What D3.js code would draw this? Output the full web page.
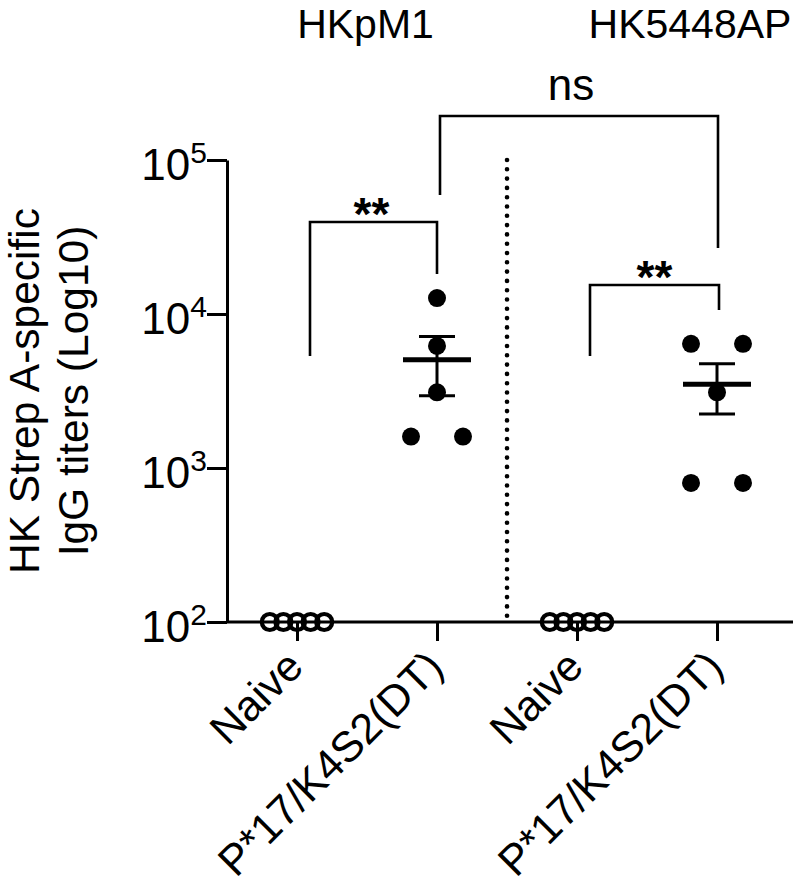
<!DOCTYPE html>
<html>
<head>
<meta charset="utf-8">
<script src="https://cdn.jsdelivr.net/npm/d3@7"></script>
<style>
  html, body { margin: 0; padding: 0; background: #fff; }
  svg { display: block; font-family: "Liberation Sans", Arial, sans-serif; }
</style>
</head>
<body>
<script>
// ---- data ----
const groupTitles = ["HKpM1", "HK5448AP"];
const categories = ["Naive", "P*17/K4S2(DT)", "Naive", "P*17/K4S2(DT)"];
const naiveHKpM1 = [100, 100, 100, 100, 100];
const vaccHKpM1 = [12700, 6200, 3100, 1600, 1600];
const naiveHK5448AP = [100, 100, 100, 100, 100];
const vaccHK5448AP = [6400, 6400, 3100, 800, 800];
const yTickValues = [1e2, 1e3, 1e4, 1e5];
const yTickExponents = ["2", "3", "4", "5"];
const yLabelLines = ["HK Strep A-specific", "IgG titers (Log10)"];
const comparisons = [
  { from: 0, to: 1, label: "**" },
  { from: 2, to: 3, label: "**" },
  { from: 1, to: 3, label: "ns" }
];

const series = [
  { cat: 0, values: naiveHKpM1, open: true },
  { cat: 1, values: vaccHKpM1, open: false },
  { cat: 2, values: naiveHK5448AP, open: true },
  { cat: 3, values: vaccHK5448AP, open: false }
];

// ---- layout ----
const W = 800, H = 891;
const svg = d3.select("body").append("svg").attr("width", W).attr("height", H);

const y = d3.scaleLog().domain([1e2, 1e5]).range([622, 160]);
const x = d3.scalePoint().domain(d3.range(categories.length)).range([297, 717]);
const axisLeftX = 227, axisRightX = 793;

// y axis
const gy = svg.append("g").attr("transform", `translate(${axisLeftX},0)`)
  .call(d3.axisLeft(y).tickValues(yTickValues).tickSize(20).tickSizeOuter(0).tickFormat(""));
gy.selectAll("path, line").attr("stroke", "#000").attr("stroke-width", 3);
gy.selectAll(".tick").each(function (d, i) {
  const t = d3.select(this).append("text")
    .attr("x", -20).attr("y", 19)
    .attr("text-anchor", "end")
    .attr("fill", "#000")
    .style("font-size", "44px");
  t.append("tspan").text("10");
  t.append("tspan").attr("dy", -17).style("font-size", "30px").text(yTickExponents[i]);
});

// x axis
const gx = svg.append("g").attr("transform", `translate(0,${y(1e2)})`)
  .call(d3.axisBottom(x).tickSize(19).tickSizeOuter(0).tickFormat(""));
gx.select(".domain").remove();
gx.selectAll("line").attr("stroke", "#000").attr("stroke-width", 3);
gx.append("line").attr("x1", axisLeftX).attr("x2", axisRightX)
  .attr("y1", 0).attr("y2", 0).attr("stroke", "#000").attr("stroke-width", 3);
gx.selectAll(".tick").append("text")
  .attr("transform", "translate(8,47) rotate(-45)")
  .attr("text-anchor", "end")
  .attr("fill", "#000")
  .style("font-size", "43px")
  .text((d) => categories[d]);

// dotted separator between groups
const sepX = (x(1) + x(2)) / 2;
svg.append("line")
  .attr("x1", sepX).attr("x2", sepX)
  .attr("y1", y(1e5)).attr("y2", y(1e2) + 2)
  .attr("stroke", "#000").attr("stroke-width", 4.6)
  .attr("stroke-linecap", "round")
  .attr("stroke-dasharray", "0 9.3");

// points with simple swarm offsets
const rFilled = 9, rOpen = 8;
series.forEach((s) => {
  const ys = s.values.map((v) => y(v));
  const used = new Array(ys.length).fill(false);
  const offsets = new Array(ys.length).fill(0);
  const step = s.open ? 13.6 : 52;
  for (let i = 0; i < ys.length; i++) {
    if (used[i]) continue;
    const grp = [];
    for (let j = i; j < ys.length; j++) {
      if (!used[j] && Math.abs(ys[j] - ys[i]) < 2 * rFilled) { grp.push(j); used[j] = true; }
    }
    grp.forEach((j, k) => { offsets[j] = (k - (grp.length - 1) / 2) * step; });
  }
  const g = svg.append("g");
  g.selectAll("circle").data(s.values).join("circle")
    .attr("cx", (d, i) => x(s.cat) + offsets[i])
    .attr("cy", (d) => y(d))
    .attr("r", s.open ? rOpen : rFilled)
    .attr("fill", s.open ? "none" : "#000")
    .attr("stroke", "#000")
    .attr("stroke-width", s.open ? 4.2 : 0);

  if (!s.open) {
    const mean = d3.mean(s.values);
    const sem = d3.deviation(s.values) / Math.sqrt(s.values.length);
    const cx = x(s.cat);
    g.append("line").attr("x1", cx).attr("x2", cx)
      .attr("y1", y(mean + sem)).attr("y2", y(mean - sem))
      .attr("stroke", "#000").attr("stroke-width", 3);
    [mean + sem, mean - sem].forEach((v) => {
      g.append("line").attr("x1", cx - 18).attr("x2", cx + 18)
        .attr("y1", y(v)).attr("y2", y(v))
        .attr("stroke", "#000").attr("stroke-width", 3);
    });
    g.append("line").attr("x1", cx - 34).attr("x2", cx + 34)
      .attr("y1", y(mean)).attr("y2", y(mean))
      .attr("stroke", "#000").attr("stroke-width", 5);
  }
});

// significance brackets
const bracketGeom = [
  { top: 222, leftEnd: 356, rightEnd: 274, dxL: 13, dxR: 0, textY: 230, bold: true, textDx: -2 },
  { top: 285, leftEnd: 356, rightEnd: 310, dxL: 13, dxR: 2, textY: 293, bold: true, textDx: 0 },
  { top: 116, leftEnd: 195, rightEnd: 248, dxL: 3, dxR: 1, textY: 100, bold: false, textDx: -8 }
];
comparisons.forEach((c, i) => {
  const b = bracketGeom[i];
  const xl = x(c.from) + b.dxL, xr = x(c.to) + b.dxR;
  svg.append("path")
    .attr("d", `M${xl},${b.leftEnd}V${b.top}H${xr}V${b.rightEnd}`)
    .attr("fill", "none").attr("stroke", "#000").attr("stroke-width", 2.6);
  svg.append("text")
    .attr("x", (xl + xr) / 2 + b.textDx).attr("y", b.textY)
    .attr("text-anchor", "middle")
    .attr("fill", "#000")
    .style("font-size", b.bold ? "46px" : "44px")
    .style("font-weight", b.bold ? "bold" : "normal")
    .text(c.label);
});

// group titles
const titlePos = [365.5, 690];
groupTitles.forEach((t, i) => {
  svg.append("text")
    .attr("x", titlePos[i]).attr("y", 38)
    .attr("text-anchor", "middle")
    .attr("fill", "#000")
    .style("font-size", "41px")
    .text(t);
});

// y-axis label
const yMid = (y(1e2) + y(1e5)) / 2;
yLabelLines.forEach((line, i) => {
  svg.append("text")
    .attr("transform", `translate(${38.5 + i * 49},${yMid}) rotate(-90)`)
    .attr("text-anchor", "middle")
    .attr("fill", "#000")
    .style("font-size", "42.5px")
    .text(line);
});
</script>
</body>
</html>
